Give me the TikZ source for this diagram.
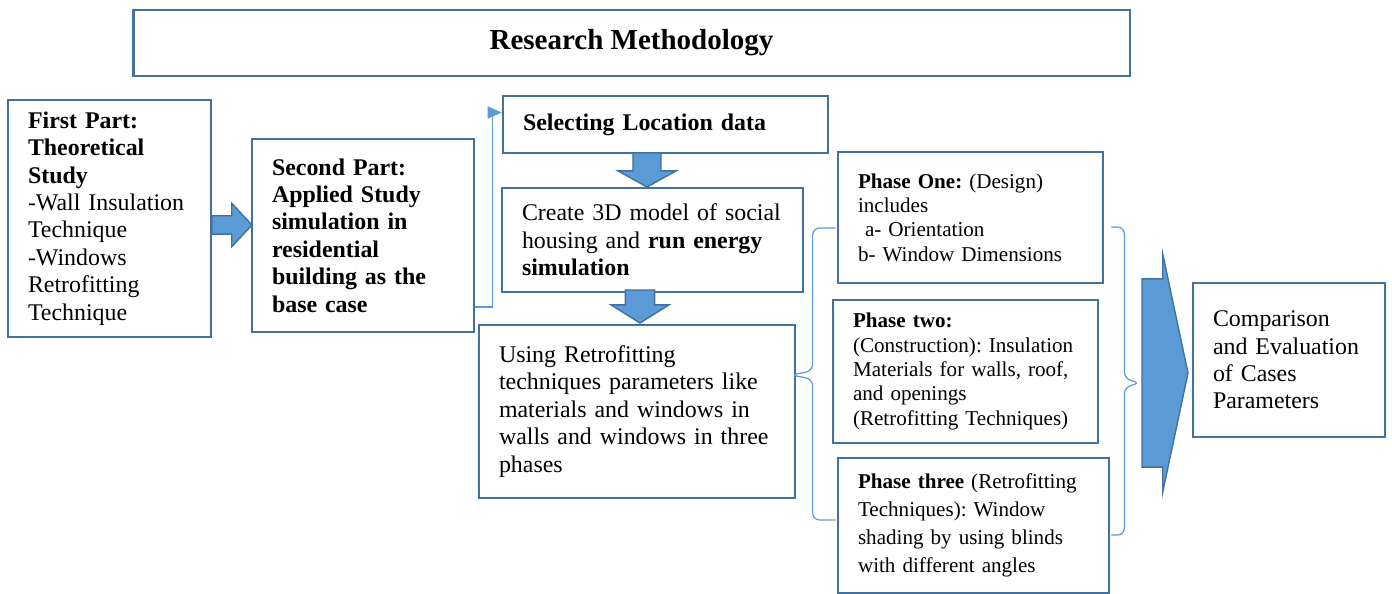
\documentclass[tikz,border=0pt]{standalone}
\usepackage{fontspec}
\setmainfont{Liberation Serif}
\usepackage{tikz}
\usetikzlibrary{arrows.meta,positioning,calc,shapes.arrows}
\definecolor{MethEdge}{HTML}{41719C}
\definecolor{MethFill}{HTML}{5B9BD5}
\tikzset{
  methtext/.style={font=\fontsize{13.6}{15.6}\selectfont},
  phasetext/.style={font=\fontsize{12}{13.9}\selectfont},
  methbox/.style={draw=MethEdge, line width=1.6pt, fill=white, inner xsep=0.4cm, inner ysep=0pt, align=left},
  blockarrow/.style={single arrow, draw=MethEdge, fill=MethFill, line width=0.8pt, inner sep=0pt, outer sep=0pt, single arrow head indent=0pt, anchor=tail},
  thinlink/.style={-{Triangle[length=8pt,width=7pt]}, draw=MethFill, line width=0.7pt},
  phasebrace/.style={draw=MethFill, line width=0.7pt, rounded corners=4pt}
}
\frenchspacing

\begin{document}
\begin{tikzpicture}[x=0.02cm, y=-0.02cm]
\useasboundingbox (0,0) rectangle (1392,594);
% title
\node[methbox, minimum width=19.94cm, minimum height=1.32cm, align=center, font=\bfseries\fontsize{16.5}{19}\selectfont] (title) at (631.5,43) {Research Methodology};
% parts
\node[methbox, methtext, minimum width=4.06cm, minimum height=4.74cm, text width=3.26cm] (first) at (109.5,218.5)
  {\textbf{First Part:}\\ \textbf{Theoretical}\\ \textbf{Study}\\ -Wall Insulation\\ Technique\\ -Windows\\ Retrofitting\\ Technique};
\node[methbox, methtext, minimum width=4.44cm, minimum height=3.86cm, text width=3.64cm] (second) at (363,235.5)
  {\bfseries Second Part:\\ Applied Study\\ simulation in\\ residential\\ building as the\\ base case};
\node[blockarrow, minimum height=0.8cm, minimum width=0.82cm, text height=0.34cm, single arrow tip angle=94] (arr1) at (212,225) {};
% applied study steps
\node[methbox, methtext, minimum width=6.5cm, minimum height=1.14cm, text width=5.7cm] (select) at (665.5,124.5)
  {\textbf{Selecting Location data}};
\node[methbox, methtext, minimum width=6.02cm, minimum height=2.08cm, text width=5.22cm] (create) at (652.5,240)
  {Create 3D model of social\\ housing and \textbf{run energy}\\ \textbf{simulation}};
\node[methbox, methtext, minimum width=6.32cm, minimum height=3.46cm, text width=5.52cm] (using) at (637,411.5)
  {Using Retrofitting\\ techniques parameters like\\ materials and windows in\\ walls and windows in three\\ phases};
\node[blockarrow, rotate=-90, minimum height=0.68cm, minimum width=1.16cm, text height=0.44cm, single arrow tip angle=122] (arr2) at (647,153) {};
\node[blockarrow, rotate=-90, minimum height=0.66cm, minimum width=1.16cm, text height=0.48cm, single arrow tip angle=116] (arr3) at (640,290) {};
\draw[thinlink] ($(second.east)+(0,71.5)$) -- ++(17,0) |- ($(select.west)+(0,-12)$);
% phases
\node[methbox, phasetext, minimum width=5.3cm, minimum height=2.62cm, text width=4.5cm] (phase1) at (970.5,217.5)
  {\textbf{Phase One:} (Design)\\ includes\\ \ a- Orientation\\ b- Window Dimensions};
\node[methbox, phasetext, minimum width=5.3cm, minimum height=2.86cm, text width=4.5cm] (phase2) at (965.5,371.5)
  {\textbf{Phase two:}\\ (Construction): Insulation\\ Materials for walls, roof,\\ and openings\\ (Retrofitting Techniques)};
\node[methbox, font=\fontsize{12}{15.9}\selectfont, minimum width=5.42cm, minimum height=2.7cm, text width=4.62cm] (phase3) at (973.5,525.5)
  {\textbf{Phase three} (Retrofitting\\ Techniques): Window\\ shading by using blinds\\ with different angles};
\draw[phasebrace] ($(phase1.west)+(-1,10.5)$) -- ++(-23,0) -- ++(0,143) -- ++(-22,4) -- ++(22,4) -- ++(0,141) -- ++(23,0);
\draw[phasebrace] ($(phase1.east)+(7,9.5)$) -- ++(13,0) -- ++(0,152) -- ++(16,4) -- ++(-16,4) -- ++(0,148) -- ++(-13,0);
% result
\node[blockarrow, minimum height=0.92cm, minimum width=4.76cm, text height=1.86cm, single arrow tip angle=156] (arr4) at (1142,373) {};
\node[methbox, methtext, minimum width=3.84cm, minimum height=3.08cm, text width=3.04cm] (compare) at (1289,360)
  {Comparison\\ and Evaluation\\ of Cases\\ Parameters};
\end{tikzpicture}
\end{document}
